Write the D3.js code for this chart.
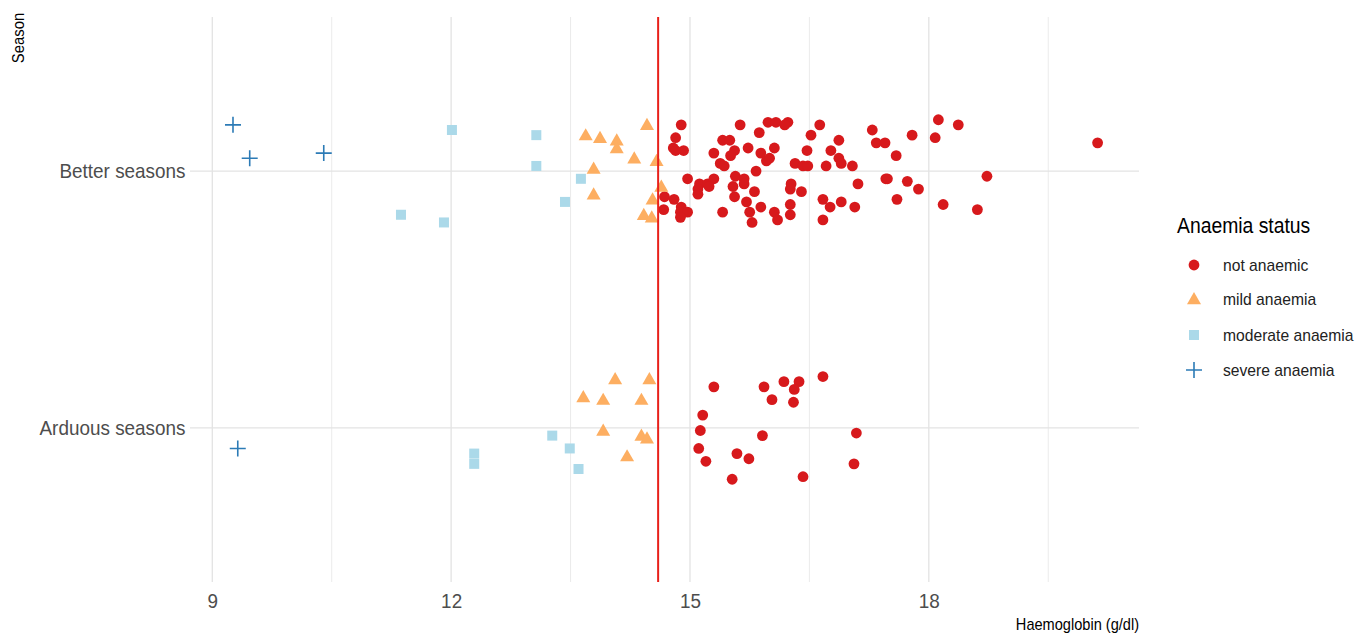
<!DOCTYPE html>
<html>
<head>
<meta charset="utf-8">
<script src="https://cdn.jsdelivr.net/npm/d3@7"></script>
<style>
  html, body { margin: 0; padding: 0; background: #ffffff; }
  text { font-family: "Liberation Sans", Arial, sans-serif; }
</style>
</head>
<body>
<svg id="chart" width="1355" height="634"></svg>
<script>
// ---- Data (Haemoglobin g/dl, vertical jitter offset in category units) ----
const seasons = ["Better seasons", "Arduous seasons"];
const statuses = ["not anaemic", "mild anaemia", "moderate anaemia", "severe anaemia"];
const xTicks = [9, 12, 15, 18];
const xMinorTicks = [10.5, 13.5, 16.5, 19.5];
const threshold = 14.6;

const notAnaemicBetter = [
  [14.89,-0.18],[14.82,-0.13],[14.79,-0.09],[14.92,-0.08],[14.82,-0.08],[15.30,-0.07],[15.41,-0.12],
  [15.50,-0.12],[15.63,-0.18],[15.56,-0.08],[15.51,-0.06],[15.73,-0.09],[15.89,-0.07],[15.87,-0.15],
  [15.98,-0.19],[15.96,-0.04],[15.38,-0.03],[15.43,-0.02],[14.97,0.03],[15.12,0.05],[15.10,0.07],
  [15.10,0.09],[15.22,0.05],[15.30,0.03],[15.24,0.06],[15.57,0.02],[15.68,0.03],[15.68,0.05],
  [15.54,0.06],[15.83,0.00],[15.81,0.08],[15.56,0.10],[15.71,0.12],[15.75,0.16],[15.89,0.14],
  [15.78,0.20],[15.41,0.16],[14.68,0.10],[14.67,0.15],[14.80,0.11],[14.89,0.14],[14.88,0.16],
  [14.97,0.16],[14.88,0.18],[16.08,-0.19],[16.23,-0.19],[16.19,-0.18],[16.63,-0.18],[16.52,-0.14],
  [16.87,-0.12],[17.29,-0.16],[17.34,-0.11],[17.45,-0.11],[16.06,-0.09],[16.00,-0.05],[16.47,-0.08],
  [16.77,-0.08],[16.87,-0.05],[16.90,-0.03],[16.32,-0.03],[16.42,-0.02],[16.48,-0.02],[16.71,-0.02],
  [17.04,-0.02],[16.27,0.05],[16.26,0.07],[16.40,0.08],[16.67,0.11],[16.76,0.14],[16.90,0.12],
  [17.07,0.14],[17.11,0.05],[17.46,0.03],[16.26,0.13],[16.26,0.17],[16.06,0.16],[16.10,0.19],
  [16.67,0.19],[17.59,-0.06],[17.79,-0.14],[18.08,-0.13],[18.12,-0.20],[18.37,-0.18],[20.12,-0.11],
  [17.48,0.03],[17.73,0.04],[17.87,0.07],[17.60,0.11],[18.18,0.13],[18.61,0.15],[18.73,0.02]
];
const mildBetter = [
  [14.46,-0.18],[13.69,-0.14],[13.87,-0.13],[14.08,-0.12],[14.08,-0.09],[14.30,-0.05],[14.58,-0.04],
  [13.79,-0.01],[13.79,0.09],[14.64,0.06],[14.53,0.11],[14.42,0.17],[14.52,0.18]
];
const moderateBetter = [
  [12.01,-0.16],[13.07,-0.14],[13.07,-0.02],[13.63,0.03],[13.43,0.12],[11.37,0.17],[11.91,0.20]
];
const severeBetter = [
  [9.26,-0.18],[9.47,-0.05],[10.40,-0.07]
];
const notAnaemicArduous = [
  [15.30,-0.16],[15.93,-0.16],[16.18,-0.18],[16.37,-0.18],[16.31,-0.15],[16.67,-0.20],[16.03,-0.11],
  [16.30,-0.10],[15.16,-0.05],[15.13,0.01],[15.91,0.03],[17.09,0.02],[15.11,0.08],[15.59,0.10],
  [15.74,0.12],[15.20,0.13],[17.06,0.14],[15.53,0.20],[16.42,0.19]
];
const mildArduous = [
  [14.06,-0.19],[14.49,-0.19],[13.66,-0.12],[13.91,-0.11],[14.39,-0.11],[13.91,0.01],[14.39,0.03],
  [14.46,0.04],[14.21,0.11]
];
const moderateArduous = [
  [13.27,0.03],[13.49,0.08],[13.60,0.16],[12.29,0.10],[12.29,0.14]
];
const severeArduous = [
  [9.32,0.08]
];

// ---- Build tidy table from the named arrays ----
const groups = [
  [notAnaemicBetter, "not anaemic", "Better seasons"],
  [mildBetter, "mild anaemia", "Better seasons"],
  [moderateBetter, "moderate anaemia", "Better seasons"],
  [severeBetter, "severe anaemia", "Better seasons"],
  [notAnaemicArduous, "not anaemic", "Arduous seasons"],
  [mildArduous, "mild anaemia", "Arduous seasons"],
  [moderateArduous, "moderate anaemia", "Arduous seasons"],
  [severeArduous, "severe anaemia", "Arduous seasons"]
];
const points = [];
groups.forEach(([arr, status, season]) => arr.forEach(([hb, jit]) => points.push({hb, jit, status, season})));

// ---- Layout ----
const svg = d3.select("#chart");
const panel = {left: 190, right: 1139, top: 17, bottom: 582};
const condense = 0.9;

const x = d3.scaleLinear().domain([8.72, 20.64]).range([panel.left, panel.right]);
const y = d3.scalePoint().domain(seasons).range([panel.top, panel.bottom]).padding(0.6);

const color = d3.scaleOrdinal().domain(statuses).range(["#d7191c", "#fdae61", "#abd9e9", "#2c7bb6"]);
const shape = d3.scaleOrdinal().domain(statuses).range(["circle", "triangle", "square", "plus"]);

const grid = svg.append("g");
grid.selectAll("line.minor").data(xMinorTicks).join("line")
  .attr("x1", d => x(d)).attr("x2", d => x(d)).attr("y1", panel.top).attr("y2", panel.bottom)
  .attr("stroke", "#ebebeb").attr("stroke-width", 1);
grid.selectAll("line.major").data(xTicks).join("line")
  .attr("x1", d => x(d)).attr("x2", d => x(d)).attr("y1", panel.top).attr("y2", panel.bottom)
  .attr("stroke", "#e3e3e3").attr("stroke-width", 1.3);
grid.selectAll("line.hmajor").data(seasons).join("line")
  .attr("x1", panel.left).attr("x2", panel.right).attr("y1", d => y(d)).attr("y2", d => y(d))
  .attr("stroke", "#e3e3e3").attr("stroke-width", 1.3);

// Axes (ggplot theme_minimal: no axis lines, no ticks)
const xAxis = svg.append("g").attr("transform", `translate(0,${panel.bottom})`)
  .call(d3.axisBottom(x).tickValues(xTicks).tickSize(0).tickPadding(11));
xAxis.select(".domain").remove();
xAxis.selectAll("text").attr("font-size", 21).attr("fill", "#4d4d4d")
  .attr("font-family", "'Liberation Sans', Arial, sans-serif")
  .attr("transform", `scale(${condense},1)`);

const yAxis = svg.append("g").attr("transform", `translate(${panel.left},0)`)
  .call(d3.axisLeft(y).tickSize(0).tickPadding(5));
yAxis.select(".domain").remove();
yAxis.selectAll("text").attr("font-size", 21).attr("fill", "#4d4d4d")
  .attr("font-family", "'Liberation Sans', Arial, sans-serif")
  .attr("transform", `scale(${condense},1)`);

// Symbol drawing
function drawSymbol(sel, kind, fill) {
  if (kind === "circle") {
    sel.append("circle").attr("r", 5.4).attr("fill", fill);
  } else if (kind === "triangle") {
    sel.append("path").attr("d", "M0,-7 L7,5.2 L-7,5.2 Z").attr("fill", fill);
  } else if (kind === "square") {
    sel.append("rect").attr("x", -5).attr("y", -5).attr("width", 10).attr("height", 10).attr("fill", fill);
  } else {
    sel.append("path").attr("d", "M-8,0 L8,0 M0,-8 L0,8").attr("stroke", fill)
      .attr("stroke-width", 1.6).attr("fill", "none");
  }
}

const pts = svg.append("g");
points.forEach(p => {
  const g = pts.append("g")
    .attr("transform", `translate(${x(p.hb)},${y(p.season) + p.jit * y.step()})`);
  drawSymbol(g, shape(p.status), color(p.status));
});

// Threshold line
svg.append("line")
  .attr("x1", x(threshold)).attr("x2", x(threshold))
  .attr("y1", panel.top).attr("y2", panel.bottom)
  .attr("stroke", "#e8201a").attr("stroke-width", 2);

// Axis titles
svg.append("text").attr("transform", `translate(${panel.right},630) scale(${condense},1)`)
  .attr("text-anchor", "end")
  .attr("font-size", 16.2).attr("fill", "#000").text("Haemoglobin (g/dl)");
svg.append("text").attr("transform", `translate(24,38) rotate(-90) scale(${condense},1)`)
  .attr("text-anchor", "middle")
  .attr("font-size", 16.5).attr("fill", "#000").text("Season");

// Legend
const legend = svg.append("g").attr("transform", "translate(1177,0)");
legend.append("text").attr("transform", `translate(0,233) scale(${condense},1)`)
  .attr("font-size", 21.5).attr("fill", "#000").text("Anaemia status");
const rowsY = [265, 299, 335, 370];
statuses.forEach((s, i) => {
  const g = legend.append("g").attr("transform", `translate(17,${rowsY[i]})`);
  drawSymbol(g, shape(s), color(s));
  legend.append("text").attr("transform", `translate(46,${rowsY[i]}) scale(${condense},1)`)
    .attr("dy", "0.35em")
    .attr("font-size", 17.4).attr("fill", "#222").text(s);
});
</script>
</body>
</html>
